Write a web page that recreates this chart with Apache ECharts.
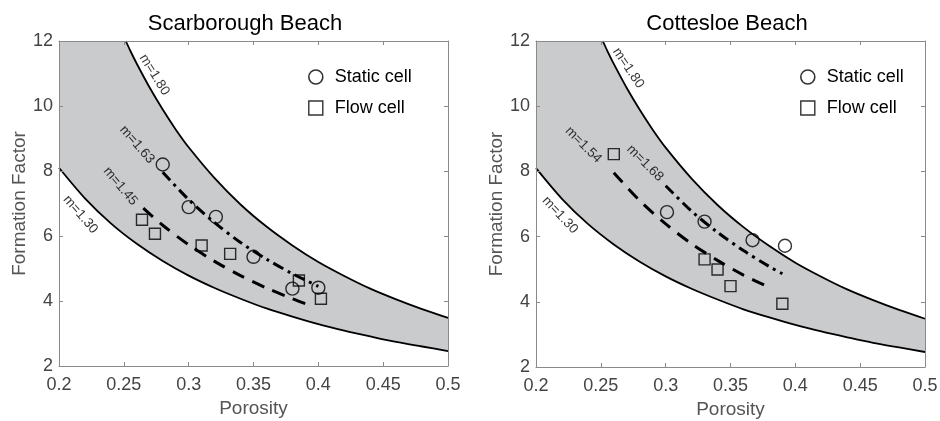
<!DOCTYPE html>
<html>
<head>
<meta charset="utf-8">
<script src="https://cdn.jsdelivr.net/npm/echarts@6/dist/echarts.min.js"></script>
<style>
    html, body { margin: 0; padding: 0; background: #fff; }
    #chart { width: 940px; height: 421px; }
</style>
</head>
<body>
<div id="chart"></div>
<script>
    // 边界曲线 m=1.30 / m=1.80
    var lowX = [0.20, 0.22, 0.24, 0.26, 0.28, 0.30, 0.32, 0.34, 0.36, 0.38, 0.40, 0.42, 0.44, 0.46, 0.48, 0.50];
    var lowY = [8.10, 7.16, 6.39, 5.76, 5.23, 4.78, 4.40, 4.07, 3.77, 3.52, 3.29, 3.09, 2.91, 2.74, 2.60, 2.46];
    var highX = [0.2515, 0.255, 0.26, 0.27, 0.28, 0.29, 0.30, 0.32, 0.34, 0.36, 0.38, 0.40, 0.42, 0.44, 0.46, 0.48, 0.50];
    var highY = [12.0, 11.70, 11.30, 10.56, 9.89, 9.28, 8.73, 7.78, 6.97, 6.29, 5.71, 5.20, 4.77, 4.38, 4.05, 3.75, 3.48];

    // Scarborough Beach
    var scStaticX = [0.280, 0.300, 0.321, 0.350, 0.380, 0.400];
    var scStaticY = [8.20, 6.89, 6.59, 5.36, 4.38, 4.41];
    var scFlowX = [0.264, 0.274, 0.310, 0.332, 0.385, 0.402];
    var scFlowY = [6.50, 6.07, 5.71, 5.45, 4.63, 4.07];
    var scStaticFitX = [0.28, 0.30, 0.32, 0.34, 0.36, 0.38, 0.40];
    var scStaticFitY = [7.96, 7.12, 6.41, 5.80, 5.29, 4.84, 4.45];
    var scFlowFitX = [0.265, 0.28, 0.30, 0.32, 0.34, 0.36, 0.38, 0.39];
    var scFlowFitY = [6.86, 6.33, 5.73, 5.22, 4.78, 4.40, 4.07, 3.92];

    // Cottesloe Beach
    var coStaticX = [0.301, 0.330, 0.367, 0.392];
    var coStaticY = [6.75, 6.46, 5.89, 5.72];
    var coFlowX = [0.260, 0.330, 0.340, 0.350, 0.390];
    var coFlowY = [8.53, 5.30, 4.99, 4.48, 3.94];
    var coStaticFitX = [0.30, 0.32, 0.34, 0.36, 0.38, 0.39];
    var coStaticFitY = [7.56, 6.78, 6.13, 5.57, 5.08, 4.86];
    var coFlowFitX = [0.26, 0.28, 0.30, 0.32, 0.34, 0.36, 0.38];
    var coFlowFitY = [7.96, 7.10, 6.39, 5.78, 5.27, 4.82, 4.44];

    // 曲线标注
    var scTagText = ['m=1.80', 'm=1.63', 'm=1.45', 'm=1.30'];
    var scTagX = [0.2736, 0.2602, 0.2473, 0.2165];
    var scTagY = [10.96, 8.81, 7.53, 6.66];
    var scTagAngle = [-58, -49, -50, -49];
    var coTagText = ['m=1.80', 'm=1.54', 'm=1.68', 'm=1.30'];
    var coTagX = [0.2712, 0.2365, 0.2841, 0.2185];
    var coTagY = [11.17, 8.81, 8.25, 6.66];
    var coTagAngle = [-56, -45, -45, -47];

    var titles = ['Scarborough Beach', 'Cottesloe Beach'];
    var xTicks = [0.2, 0.5, 0.05];
    var yTicks = [2, 12, 2];

    var FONT = '"Liberation Sans", Arial, Helvetica, sans-serif';
    var AXIS_GREY = '#8a8a8a';

    function pairs(xs, ys) {
        return xs.map(function (x, i) { return [x, ys[i]]; });
    }

    var myEcharts = echarts.init(document.getElementById('chart'));

    var grids = [
        {left: 59, top: 41, width: 389, height: 325, outerBoundsMode: 'none', containLabel: false},
        {left: 536, top: 41, width: 389, height: 326, outerBoundsMode: 'none', containLabel: false}
    ];

    var xAxes = [], yAxes = [], series = [];

    function buildPanel(g, staticX, staticY, flowX, flowY, sFitX, sFitY, fFitX, fFitY, tagText, tagX, tagY, tagAngle) {
        // 底部 / 顶部 x轴
        xAxes.push({
            gridIndex: g, type: 'value', position: 'bottom', z: 10,
            min: xTicks[0], max: xTicks[1], interval: xTicks[2],
            name: 'Porosity', nameLocation: 'middle', nameGap: 33,
            nameTextStyle: {fontFamily: FONT, fontSize: 19, color: '#555'},
            axisLine: {show: true, lineStyle: {color: AXIS_GREY, width: 1}},
            axisTick: {show: true, inside: true, length: 4, lineStyle: {color: AXIS_GREY}},
            axisLabel: {fontFamily: FONT, fontSize: 18, color: '#444', margin: 10},
            splitLine: {show: false}
        });
        xAxes.push({
            gridIndex: g, type: 'value', position: 'top', z: 10,
            min: xTicks[0], max: xTicks[1], interval: xTicks[2],
            axisLine: {show: true, lineStyle: {color: AXIS_GREY, width: 1}},
            axisTick: {show: true, inside: true, length: 4, lineStyle: {color: AXIS_GREY}},
            axisLabel: {show: false},
            splitLine: {show: false}
        });
        yAxes.push({
            gridIndex: g, type: 'value', position: 'left', z: 10,
            min: yTicks[0], max: yTicks[1], interval: yTicks[2],
            name: 'Formation Factor', nameLocation: 'middle', nameGap: 29,
            nameTextStyle: {fontFamily: FONT, fontSize: 19, color: '#555'},
            axisLine: {show: true, lineStyle: {color: AXIS_GREY, width: 1}},
            axisTick: {show: true, inside: true, length: 4, lineStyle: {color: AXIS_GREY}},
            axisLabel: {fontFamily: FONT, fontSize: 18, color: '#444', margin: 6},
            splitLine: {show: false}
        });
        yAxes.push({
            gridIndex: g, type: 'value', position: 'right', z: 10,
            min: yTicks[0], max: yTicks[1], interval: yTicks[2],
            axisLine: {show: true, lineStyle: {color: AXIS_GREY, width: 1}},
            axisTick: {show: true, inside: true, length: 4, lineStyle: {color: AXIS_GREY}},
            axisLabel: {show: false},
            splitLine: {show: false}
        });
        var xi = g * 2, yi = g * 2;
        // 灰色区域: m=1.30 以上
        series.push({
            type: 'line', xAxisIndex: xi, yAxisIndex: yi, z: 1,
            data: pairs(lowX, lowY), smooth: 0.3, symbol: 'none', silent: true,
            lineStyle: {color: '#000', width: 1.8},
            areaStyle: {origin: 'end', color: '#cacbcd', opacity: 1}
        });
        // 白色区域: m=1.80 以上
        series.push({
            type: 'line', xAxisIndex: xi, yAxisIndex: yi, z: 2,
            data: pairs(highX, highY), smooth: 0.3, symbol: 'none', silent: true,
            lineStyle: {color: '#000', width: 1.8},
            areaStyle: {origin: 'end', color: '#fff', opacity: 1}
        });
        // 拟合线
        series.push({
            type: 'line', xAxisIndex: xi, yAxisIndex: yi, z: 3,
            data: pairs(sFitX, sFitY), smooth: 0.3, symbol: 'none', silent: true,
            lineStyle: {color: '#000', width: 3, type: [11, 5, 3, 5]}
        });
        series.push({
            type: 'line', xAxisIndex: xi, yAxisIndex: yi, z: 3,
            data: pairs(fFitX, fFitY), smooth: 0.3, symbol: 'none', silent: true,
            lineStyle: {color: '#000', width: 3, type: [13, 9]}
        });
        // 数据点
        series.push({
            name: 'Static cell', type: 'scatter', xAxisIndex: xi, yAxisIndex: yi, z: 4,
            data: pairs(staticX, staticY), symbol: 'circle', symbolSize: 13,
            itemStyle: {color: 'rgba(0,0,0,0)', borderColor: '#000', borderWidth: 1.4}
        });
        series.push({
            name: 'Flow cell', type: 'scatter', xAxisIndex: xi, yAxisIndex: yi, z: 4,
            data: pairs(flowX, flowY), symbol: 'rect', symbolSize: 11,
            itemStyle: {color: 'rgba(0,0,0,0)', borderColor: '#000', borderWidth: 1.4}
        });
        // 标注文字
        series.push({
            type: 'scatter', xAxisIndex: xi, yAxisIndex: yi, z: 5, silent: true,
            symbolSize: 0,
            data: tagText.map(function (t, i) {
                return {
                    value: [tagX[i], tagY[i]], name: t,
                    label: {rotate: tagAngle[i]}
                };
            }),
            label: {
                show: true, position: 'inside', formatter: '{b}',
                fontFamily: FONT, fontSize: 13.5, color: '#000'
            }
        });
    }

    buildPanel(0, scStaticX, scStaticY, scFlowX, scFlowY, scStaticFitX, scStaticFitY, scFlowFitX, scFlowFitY,
        scTagText, scTagX, scTagY, scTagAngle);
    buildPanel(1, coStaticX, coStaticY, coFlowX, coFlowY, coStaticFitX, coStaticFitY, coFlowFitX, coFlowFitY,
        coTagText, coTagX, coTagY, coTagAngle);

    var legendBase = {
        orient: 'vertical', itemGap: 13, itemWidth: 14, itemHeight: 14,
        textStyle: {fontFamily: FONT, fontSize: 18, color: '#000', padding: [0, 0, 0, 7]},
        selectedMode: false,
        data: [
            {name: 'Static cell', icon: 'circle', itemStyle: {color: 'rgba(0,0,0,0)', borderColor: '#000', borderWidth: 1.6}},
            {name: 'Flow cell', icon: 'rect', itemStyle: {color: 'rgba(0,0,0,0)', borderColor: '#000', borderWidth: 1.4}}
        ]
    };

    myEcharts.setOption({
        animation: false,
        title: [
            {text: titles[0], left: 240, top: 8, textAlign: 'center',
                textStyle: {fontFamily: FONT, fontSize: 22, fontWeight: 'normal', color: '#000'}},
            {text: titles[1], left: 722, top: 8, textAlign: 'center',
                textStyle: {fontFamily: FONT, fontSize: 22, fontWeight: 'normal', color: '#000'}}
        ],
        legend: [
            Object.assign({left: 303, top: 63}, legendBase),
            Object.assign({left: 795, top: 63}, legendBase)
        ],
        grid: grids,
        xAxis: xAxes,
        yAxis: yAxes,
        series: series
    });
</script>
</body>
</html>
